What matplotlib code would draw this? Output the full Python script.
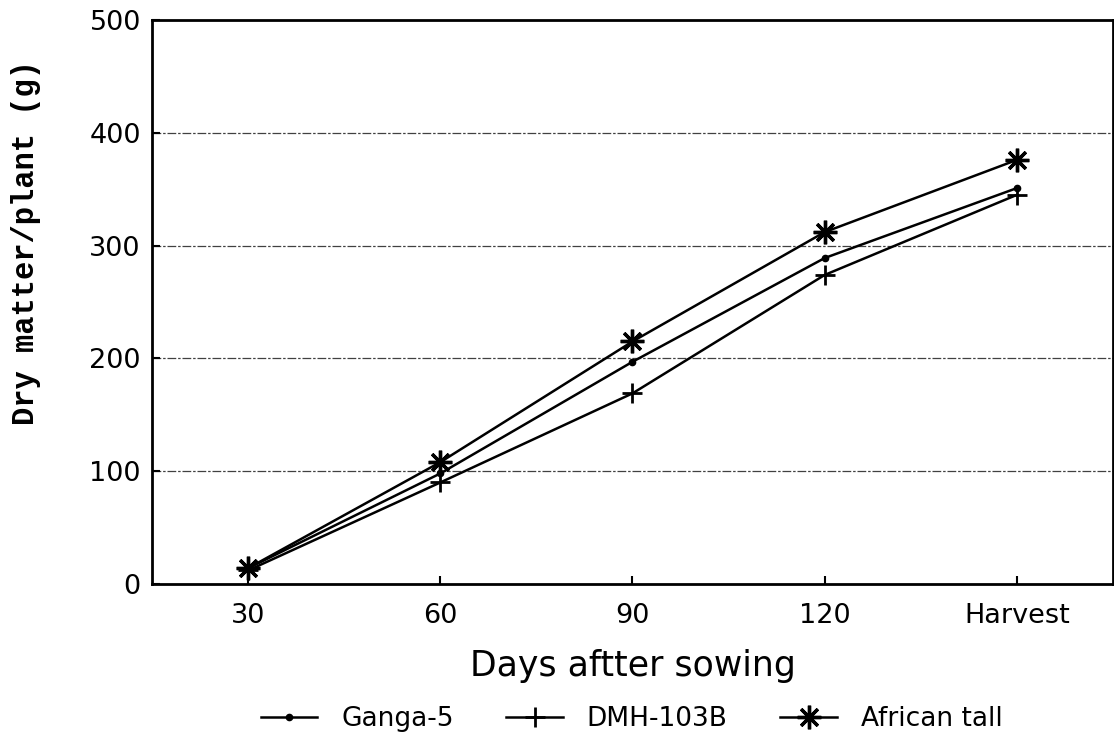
import matplotlib.pyplot as plt

# --- data ---
stages = ['30', '60', '90', '120', 'Harvest']
ganga5 = [14, 98, 197, 289, 351]
dmh103b = [12, 90, 169, 274, 345]
african_tall = [14, 108, 215, 312, 376]

fig = plt.figure(figsize=(11.14, 7.36), dpi=100)
ax = fig.add_axes([0.1364, 0.2065, 0.8627, 0.7663])

x = range(len(stages))
ax.plot(x, ganga5, color='black', lw=1.8, marker='o', ms=4.5, label='Ganga-5')
ax.plot(x, dmh103b, color='black', lw=1.8, marker='+', ms=15, mew=2.0, label='DMH-103B')
ax.plot(x, african_tall, color='black', lw=1.8, marker=(8, 2, 0), ms=17, mew=2.4,
        label='African tall')

ax.set_xlim(-0.5, 4.5)
ax.set_ylim(0, 500)
ax.set_xticks(list(x))
ax.set_xticklabels(stages)
ax.set_yticks([0, 100, 200, 300, 400, 500])

# ragged horizontal grid like the scan
for yv in [100, 200, 300, 400]:
    ax.axhline(yv, color='black', lw=0.9, ls=(0, (7, 1.5, 2, 1.5)), alpha=0.75, zorder=0)

for s in ax.spines.values():
    s.set_linewidth(2.0)

ax.tick_params(direction='in', length=6, width=1.5, labelsize=19.5)
ax.tick_params(axis='x', pad=14)
ax.tick_params(axis='y', pad=8)
for lab in ax.get_xticklabels() + ax.get_yticklabels():
    lab.set_fontfamily('DejaVu Sans')

ax.set_xlabel('Days aftter sowing', fontsize=25, family='DejaVu Sans', labelpad=14)
ax.set_ylabel('Dry matter/plant (g)', fontsize=22, family='Liberation Mono',
              fontweight='bold')
ax.yaxis.set_label_coords(-0.1150, 0.605)

fig.legend(loc='lower center', bbox_to_anchor=(0.567, -0.027), ncol=3, frameon=False,
           prop={'family': 'DejaVu Sans', 'size': 19}, handlelength=2.15,
           columnspacing=2.0, handletextpad=0.9)

fig.savefig('out.png', dpi=100)
